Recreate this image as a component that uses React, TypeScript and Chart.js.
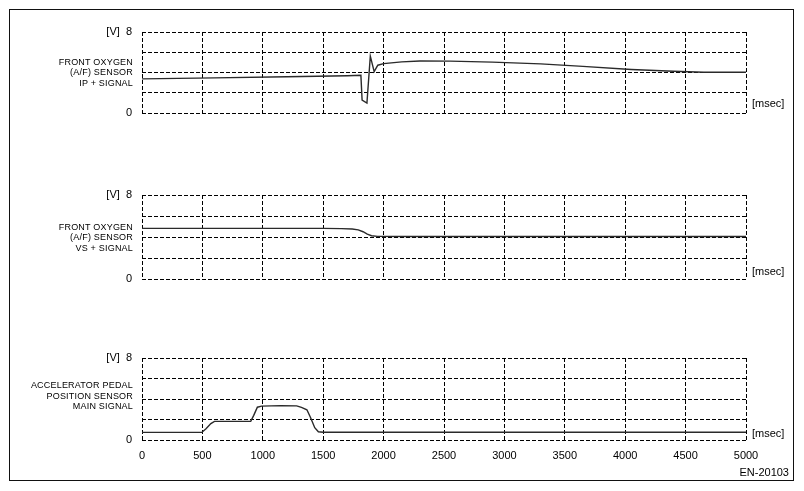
import React, { useEffect, useRef } from 'react';
import { Chart, registerables } from 'chart.js';

Chart.register(...registerables);

// ---- Data ----
const X_MIN = 0;
const X_MAX = 5000;
const X_STEP = 500;
const Y_MIN = 0;
const Y_MAX = 8;
const Y_STEP = 2;
const Y_TOP_LABEL = '[V]  8';
const Y_BOTTOM_LABEL = '0';
const X_UNIT = '[msec]';
const FIGURE_ID = 'EN-20103';

const IP_TIME = [0, 600, 1200, 1700, 1812, 1822, 1862, 1890, 1922, 1952, 2000, 2150, 2300, 2550, 2900, 3300, 3650, 4050, 4400, 4650, 5000];
const IP_VOLT = [3.37, 3.47, 3.58, 3.68, 3.72, 1.28, 0.98, 5.62, 4.08, 4.72, 4.88, 5.05, 5.13, 5.12, 5.02, 4.85, 4.6, 4.3, 4.12, 4.03, 4.03];

const VS_TIME = [0, 1500, 1650, 1740, 1790, 1830, 1865, 1900, 1950, 2200, 5000];
const VS_VOLT = [4.82, 4.82, 4.8, 4.76, 4.68, 4.5, 4.28, 4.12, 4.06, 4.05, 4.05];

const APP_TIME = [0, 495, 530, 570, 600, 900, 925, 955, 990, 1150, 1280, 1320, 1365, 1395, 1430, 1460, 1500, 5000];
const APP_VOLT = [0.74, 0.74, 1.1, 1.6, 1.82, 1.82, 2.4, 3.2, 3.3, 3.35, 3.33, 3.18, 2.95, 2.2, 1.2, 0.8, 0.76, 0.76];

const IP_LABEL = ['FRONT OXYGEN', '(A/F) SENSOR', 'IP + SIGNAL'];
const VS_LABEL = ['FRONT OXYGEN', '(A/F) SENSOR', 'VS + SIGNAL'];
const APP_LABEL = ['ACCELERATOR PEDAL', 'POSITION SENSOR', 'MAIN SIGNAL'];

const FONT = '"Liberation Sans", Arial, sans-serif';
Chart.defaults.font.family = FONT;

type PanelProps = {
  time: number[];
  volt: number[];
  top: number;
  height: number;
  padTop: number;
  padBottom: number;
  showX: boolean;
};

function Panel({ time, volt, top, height, padTop, padBottom, showX }: PanelProps) {
  const ref = useRef<HTMLCanvasElement | null>(null);
  useEffect(() => {
    if (!ref.current) return;
    const gridStyle = { color: '#000', lineWidth: 1, drawTicks: false };
    const chart = new Chart(ref.current, {
      type: 'line',
      data: {
        datasets: [
          {
            data: time.map((t, i) => ({ x: t, y: volt[i] })),
            borderColor: '#2a2a2a',
            borderWidth: 1.4,
            pointRadius: 0,
            tension: 0,
            fill: false,
          },
        ],
      },
      options: {
        responsive: false,
        animation: false,
        events: [],
        plugins: { legend: { display: false }, tooltip: { enabled: false } },
        layout: { padding: { top: padTop, bottom: padBottom, left: 0, right: 58 } },
        scales: {
          x: {
            type: 'linear',
            min: X_MIN,
            max: X_MAX,
            ticks: {
              display: showX,
              stepSize: X_STEP,
              autoSkip: false,
              maxRotation: 0,
              padding: 9,
              color: '#000',
              font: { size: 11 },
              callback: (v: any) => String(v),
            },
            grid: gridStyle,
            border: { display: false, dash: [4, 2] },
            afterFit: (s: any) => {
              s.height = showX ? 30 : 0;
            },
          },
          y: {
            min: Y_MIN,
            max: Y_MAX,
            ticks: {
              stepSize: Y_STEP,
              padding: 10,
              color: '#000',
              font: { size: 11 },
              callback: (v: any) => (v === Y_MAX ? Y_TOP_LABEL : v === Y_MIN ? Y_BOTTOM_LABEL : ''),
            },
            grid: gridStyle,
            border: { display: false, dash: [4, 2] },
            afterFit: (s: any) => {
              s.width = 142;
            },
          },
        },
      } as any,
    });
    return () => chart.destroy();
  }, [time, volt, padTop, padBottom, showX]);
  return (
    <canvas
      ref={ref}
      width={804}
      height={height}
      style={{ position: 'absolute', left: 0, top, width: 804, height }}
    />
  );
}

function SideLabel({ lines, mid }: { lines: string[]; mid: number }) {
  const lh = 10.5;
  return (
    <div
      style={{
        position: 'absolute',
        left: 0,
        width: 133,
        top: mid - (lines.length * lh) / 2,
        textAlign: 'right',
        fontFamily: FONT,
        fontSize: 9,
        lineHeight: `${lh}px`,
        letterSpacing: '0.2px',
        color: '#000',
        whiteSpace: 'nowrap',
      }}
    >
      {lines.map((l, i) => (
        <div key={i}>{l}</div>
      ))}
    </div>
  );
}

function Unit({ y }: { y: number }) {
  return (
    <div
      style={{
        position: 'absolute',
        left: 752,
        top: y - 7,
        fontFamily: FONT,
        fontSize: 11,
        lineHeight: '14px',
        color: '#000',
      }}
    >
      {X_UNIT}
    </div>
  );
}

export default function App() {
  return (
    <div
      style={{
        position: 'absolute',
        left: 0,
        top: 0,
        width: 804,
        height: 491,
        background: '#fff',
        overflow: 'hidden',
      }}
    >
      <div
        style={{
          position: 'absolute',
          left: 9,
          top: 9,
          width: 783,
          height: 470,
          border: '1.5px solid #111',
        }}
      />
      <Panel time={IP_TIME} volt={IP_VOLT} top={0} height={130} padTop={32} padBottom={17} showX={false} />
      <Panel time={VS_TIME} volt={VS_VOLT} top={150} height={150} padTop={45} padBottom={21} showX={false} />
      <Panel time={APP_TIME} volt={APP_VOLT} top={320} height={160} padTop={38} padBottom={10} showX={true} />
      <SideLabel lines={IP_LABEL} mid={72.5} />
      <SideLabel lines={VS_LABEL} mid={237.5} />
      <SideLabel lines={APP_LABEL} mid={396} />
      <Unit y={103} />
      <Unit y={271} />
      <Unit y={433} />
      <div
        style={{
          position: 'absolute',
          right: 15,
          top: 465,
          fontFamily: FONT,
          fontSize: 11,
          lineHeight: '14px',
          color: '#000',
        }}
      >
        {FIGURE_ID}
      </div>
    </div>
  );
}
